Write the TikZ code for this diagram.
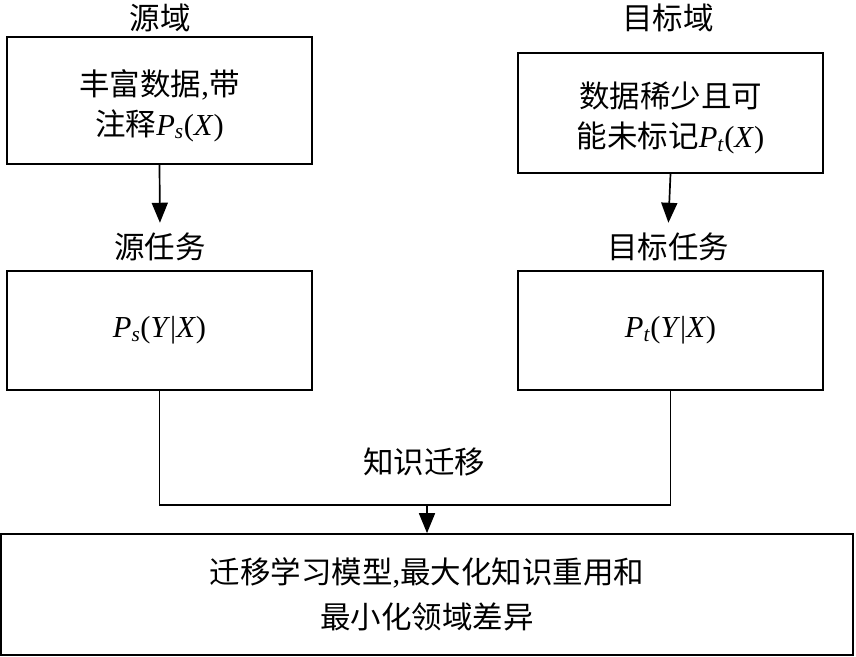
\documentclass[tikz,border=0pt]{standalone}
\usepackage{fontspec}
\setmainfont{Liberation Serif}
\newfontfamily\cjk{Noto Sans CJK SC}
\usetikzlibrary{arrows.meta}
\newcommand{\Pv}[1]{\textit{P}\textsubscript{\textit{#1}}}
\begin{document}
\begin{tikzpicture}[x=1pt,y=-1pt,
  box/.style={draw,line width=1.7pt,inner sep=0pt},
  intext/.style={align=center,yshift=-5pt},
  lab/.style={inner sep=0pt},
  conn/.style={line width=1.7pt},
  arr/.style={conn,-{Triangle[length=20pt,width=16pt]}},
  font=\fontsize{30.5}{40}\selectfont]
\useasboundingbox (0,0) rectangle (856,656);
% top labels
\node[lab] (srcdomlab) at (160,18) {\cjk 源域};
\node[lab] (tgtdomlab) at (668,18) {\cjk 目标域};
% domain boxes
\node[box,minimum width=305pt,minimum height=127pt,
  label={[intext]center:{\cjk 丰富数据},{\cjk 带}\\{\cjk 注释}\Pv{s}(\textit{X})}] (srcdom) at (159.5,100.5) {};
\node[box,minimum width=305pt,minimum height=120pt,
  label={[intext]center:{\cjk 数据稀少且可}\\{\cjk 能未标记}\Pv{t}(\textit{X})}] (tgtdom) at (670.5,113) {};
% task labels
\node[lab] (srctasklab) at (160,247) {\cjk 源任务};
\node[lab] (tgttasklab) at (668,247) {\cjk 目标任务};
% task boxes
\node[box,minimum width=305pt,minimum height=119pt] (srctask) at (159.5,330.5)
  {\Pv{s}(\textit{Y}|\textit{X})};
\node[box,minimum width=305pt,minimum height=119pt] (tgttask) at (670.5,330.5)
  {\Pv{t}(\textit{Y}|\textit{X})};
% bottom box
\node[box,align=center,minimum width=852pt,minimum height=121pt,font=\fontsize{30.5}{45}\selectfont] (model) at (427,594.5)
  {{\cjk 迁移学习模型},{\cjk 最大化知识重用和}\\{\cjk 最小化领域差异}};
% transfer label
\node[lab] (transfer) at (424,462) {\cjk 知识迁移};
% connectors
\draw[arr,shorten >=10pt] (srcdom.south) -- (srctasklab.north);
\draw[arr,shorten >=10pt] (tgtdom.south) -- (tgttasklab.north);
\coordinate (join) at (427,505);
\draw[conn] (srctask.south) |- (join) -| (tgttask.south);
\draw[arr] (join) -- (model.north);
\end{tikzpicture}
\end{document}
